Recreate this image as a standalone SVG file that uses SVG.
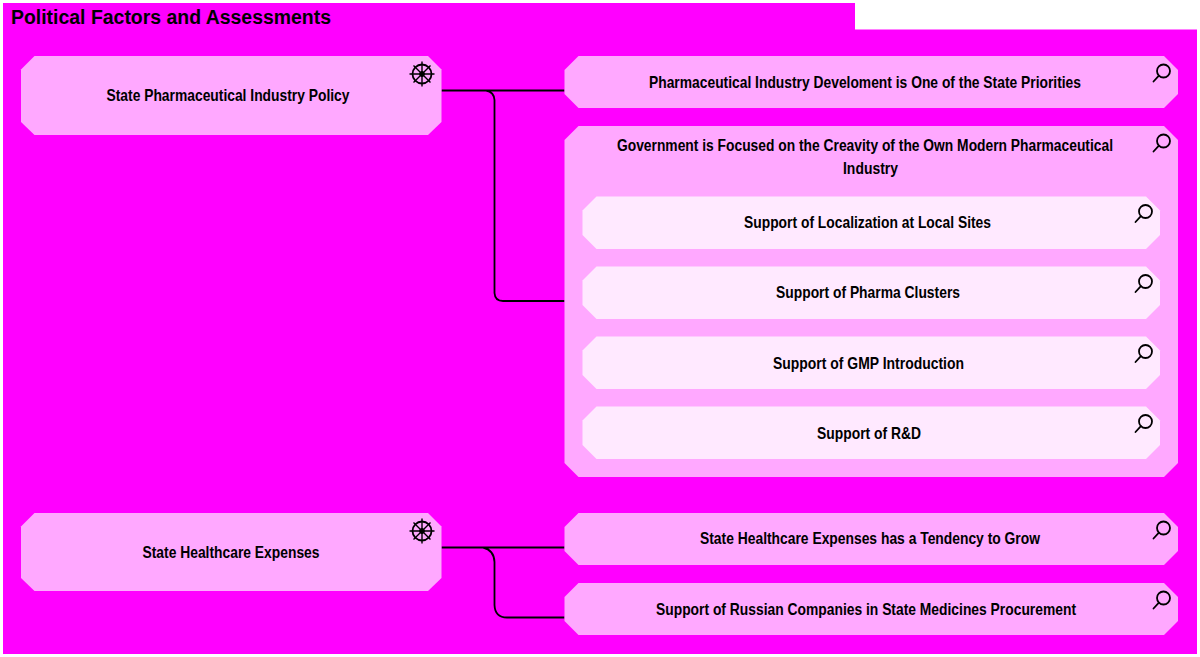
<svg xmlns="http://www.w3.org/2000/svg" width="1200" height="657" viewBox="0 0 1200 657">
<style>
.mid{fill:#ffa8ff}
.lt{fill:#ffe9ff}
.t{font-family:"Liberation Sans",Arial,sans-serif;font-weight:700;font-size:16.500px;fill:#000;text-anchor:middle}
.c{fill:none;stroke:#000;stroke-width:1.8}
.i{fill:none;stroke:#000;stroke-width:1.8}
.h{fill:none;stroke:#000;stroke-width:1.800;stroke-linecap:round}
</style>
<defs>
<g id="wheel" class="i"><circle r="9.500"/><circle r="2" fill="#000"/><path d="M0-12.500V12.500M-12.500 0H12.500M-8.500-8.500L8.500 8.500M-8.500 8.500L8.500-8.500" stroke-width="1.400"/></g>
<g id="mag"><circle class="h" cx="0" cy="0" r="6.500"/><path class="h" d="M-4.600 4.600L-10 10.500"/></g>
</defs>
<rect width="1200" height="657" fill="#fff"/>
<path id="frame" d="M3 3H855V29.500H1197V654H3Z" fill="#ff00ff"/>
<text x="11" y="23.500" style="font-family:'Liberation Sans',Arial,sans-serif;font-weight:700;font-size:19.500px" textLength="320" lengthAdjust="spacingAndGlyphs">Political Factors and Assessments</text>
<g id="connectors">
<path class="c" d="M441.500 90.500H564.500M486 90.500Q494 92 494.500 100V293Q495 301 503 301H564.500"/>
<path class="c" d="M441.500 547.500H564.500M483 547.500Q494 550 494.500 562V605Q495 617.500 507 617.500H564.500"/>
</g>
<g id="n1"><path class="mid" d="M34.500 56H428L441.500 69.500V122L428 135H34.500L21 122V69.500Z"/><use href="#wheel" x="422" y="74"/><text class="t" x="228" y="101" textLength="243" lengthAdjust="spacingAndGlyphs">State Pharmaceutical Industry Policy</text></g>
<g id="n2"><path class="mid" d="M578.500 56H1164L1178 70V94L1164 108H578.500L564.500 94V70Z"/><use href="#mag" x="1163.500" y="71"/><text class="t" x="865" y="88" textLength="432" lengthAdjust="spacingAndGlyphs">Pharmaceutical Industry Develoment is One of the State Priorities</text></g>
<g id="n3"><path class="mid" d="M578.500 126H1164L1178 140V463L1164 477H578.500L564.500 463V140Z"/><use href="#mag" x="1163.500" y="141"/><text class="t" x="865" y="151" style="font-size:16px" textLength="496" lengthAdjust="spacingAndGlyphs">Government is Focused on the Creavity of the Own Modern Pharmaceutical</text><text class="t" x="870.500" y="174" textLength="55" lengthAdjust="spacingAndGlyphs">Industry</text></g>
<g id="n4"><path class="lt" d="M596.500 196.500H1146L1160 210.500V235L1146 249H596.500L582.500 235V210.500Z"/><use href="#mag" x="1145.500" y="211.500"/><text class="t" x="867.500" y="228" textLength="247" lengthAdjust="spacingAndGlyphs">Support of Localization at Local Sites</text></g>
<g id="n5"><path class="lt" d="M596.500 266.500H1146L1160 280.500V305L1146 319H596.500L582.500 305V280.500Z"/><use href="#mag" x="1145.500" y="281.500"/><text class="t" x="868" y="298" textLength="184" lengthAdjust="spacingAndGlyphs">Support of Pharma Clusters</text></g>
<g id="n6"><path class="lt" d="M596.500 336.500H1146L1160 350.500V375L1146 389H596.500L582.500 375V350.500Z"/><use href="#mag" x="1145.500" y="351.500"/><text class="t" x="868.500" y="369" textLength="191" lengthAdjust="spacingAndGlyphs">Support of GMP Introduction</text></g>
<g id="n7"><path class="lt" d="M596.500 406.500H1146L1160 420.500V445L1146 459H596.500L582.500 445V420.500Z"/><use href="#mag" x="1145.500" y="421.500"/><text class="t" x="869" y="439" textLength="104" lengthAdjust="spacingAndGlyphs">Support of R&amp;D</text></g>
<g id="n8"><path class="mid" d="M34.500 513H428L441.500 526.500V578L428 591H34.500L21 578V526.500Z"/><use href="#wheel" x="422" y="531"/><text class="t" x="231" y="558" textLength="177" lengthAdjust="spacingAndGlyphs">State Healthcare Expenses</text></g>
<g id="n9"><path class="mid" d="M578.500 513H1164L1178 527V551L1164 565H578.500L564.500 551V527Z"/><use href="#mag" x="1163.500" y="528"/><text class="t" x="870" y="544" textLength="340" lengthAdjust="spacingAndGlyphs">State Healthcare Expenses has a Tendency to Grow</text></g>
<g id="n10"><path class="mid" d="M578.500 583H1164L1178 597V621L1164 635H578.500L564.500 621V597Z"/><use href="#mag" x="1163.500" y="598"/><text class="t" x="866" y="615" textLength="420" lengthAdjust="spacingAndGlyphs">Support of Russian Companies in State Medicines Procurement</text></g>
</svg>
